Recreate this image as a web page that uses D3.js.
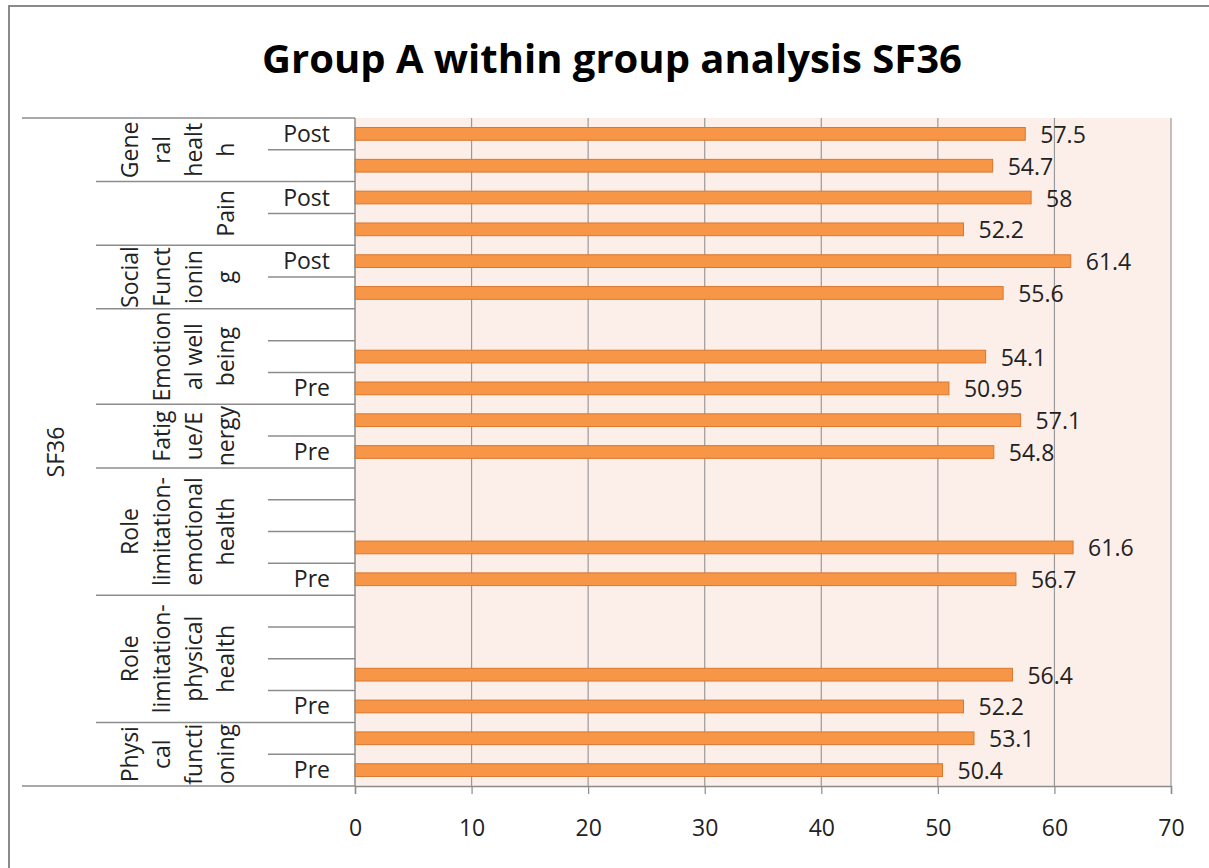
<!DOCTYPE html>
<html>
<head>
<meta charset="utf-8">
<script src="https://cdn.jsdelivr.net/npm/d3@7"></script>
<style>
  html, body { margin: 0; padding: 0; background: #fff; }
  svg { display: block; }
  text { font-family: "Open Sans", "DejaVu Sans", sans-serif; }
</style>
</head>
<body>
<svg id="chart" width="1209" height="868"></svg>
<script>
// SF36 domains, top to bottom, with their label lines as they wrap in the axis
const groupLines = [
  ["Gene", "ral", "healt", "h"],
  ["Pain"],
  ["Social", "Funct", "ionin", "g"],
  ["Emotion", "al well", "being"],
  ["Fatig", "ue/E", "nergy"],
  ["Role", "limitation-", "emotional", "health"],
  ["Role", "limitation-", "physical", "health"],
  ["Physi", "cal", "functi", "oning"]
];
const groupSizes = [2, 2, 2, 3, 2, 4, 4, 2];

// Row labels and values, top to bottom (null = no bar)
const subLabels = ["Post", "", "Post", "", "Post", "", "", "", "Pre", "", "Pre",
                   "", "", "", "Pre", "", "", "", "Pre", "", "Pre"];
const values = [57.5, 54.7, 58, 52.2, 61.4, 55.6, null, 54.1, 50.95, 57.1, 54.8,
                null, null, 61.6, 56.7, null, null, 56.4, 52.2, 53.1, 50.4];

const xTicks = [0, 10, 20, 30, 40, 50, 60, 70];
const title = "Group A within group analysis SF36";
const outerLabel = "SF36";

const svg = d3.select("#chart");
const gray = "#8c8c8c";

// outer chart border
svg.append("rect")
  .attr("x", 9).attr("y", 6).attr("width", 1230).attr("height", 900)
  .attr("fill", "#fff").attr("stroke", "#8a8a8a").attr("stroke-width", 2);

const plot = { left: 355, right: 1171, top: 118, bottom: 786 };
const rows = d3.range(values.length);

const x = d3.scaleLinear().domain([0, 70]).range([plot.left, plot.right]);
const yRow = d3.scaleBand().domain(rows).range([plot.top, plot.bottom]).padding(0);
const yBar = d3.scaleBand().domain(rows).range([plot.top, plot.bottom])
  .paddingInner(0.6).paddingOuter(0.3);

// title
svg.append("text")
  .attr("x", 612).attr("y", 73)
  .attr("text-anchor", "middle")
  .attr("font-size", 40).attr("font-weight", "bold").attr("fill", "#000")
  .attr("textLength", 700).attr("lengthAdjust", "spacingAndGlyphs")
  .text(title);

// plot background
svg.append("rect")
  .attr("x", plot.left).attr("y", plot.top)
  .attr("width", plot.right - plot.left).attr("height", plot.bottom - plot.top)
  .attr("fill", "#fcefea");

// vertical gridlines
svg.append("g").selectAll("line").data(xTicks.slice(1)).join("line")
  .attr("x1", d => x(d)).attr("x2", d => x(d))
  .attr("y1", plot.top).attr("y2", plot.bottom)
  .attr("stroke", "#9a9a9a").attr("stroke-width", 1.2);

// bars
const barData = rows.filter(i => values[i] !== null);
svg.append("g").selectAll("rect").data(barData).join("rect")
  .attr("x", x(0)).attr("y", i => yBar(i))
  .attr("width", i => x(values[i]) - x(0))
  .attr("height", yBar.bandwidth())
  .attr("fill", "#f79646").attr("stroke", "#d9772f").attr("stroke-width", 1);

// value labels
svg.append("g").selectAll("text").data(barData).join("text")
  .attr("x", i => x(values[i]) + 15)
  .attr("y", i => yBar(i) + yBar.bandwidth() / 2 + 9)
  .attr("font-size", 23).attr("fill", "#222")
  .text(i => values[i]);

// x axis
const xAxis = d3.axisBottom(x).tickValues(xTicks).tickSize(8).tickPadding(26)
  .tickFormat(d3.format("d"));
const gx = svg.append("g").attr("transform", `translate(0,${plot.bottom})`).call(xAxis);
gx.select(".domain").attr("stroke", gray).attr("stroke-width", 1.5);
gx.selectAll(".tick line").attr("stroke", gray).attr("stroke-width", 1.2);
gx.selectAll(".tick text").attr("font-size", 23).attr("fill", "#222")
  .attr("font-family", "'Open Sans', sans-serif");

// category axis line
svg.append("line")
  .attr("x1", plot.left).attr("x2", plot.left)
  .attr("y1", plot.top).attr("y2", plot.bottom)
  .attr("stroke", gray).attr("stroke-width", 1.5);

// outer top/bottom lines of the category axis
[plot.top, plot.bottom].forEach(yv => {
  svg.append("line")
    .attr("x1", 22).attr("x2", plot.left).attr("y1", yv).attr("y2", yv)
    .attr("stroke", gray).attr("stroke-width", 1.5);
});

// group boundaries and row boundaries
const groupStart = [];
let acc = 0;
groupSizes.forEach(s => { groupStart.push(acc); acc += s; });

const groupBounds = groupStart.slice(1);
svg.append("g").selectAll("line").data(groupBounds).join("line")
  .attr("x1", 96).attr("x2", plot.left)
  .attr("y1", i => yRow(i)).attr("y2", i => yRow(i))
  .attr("stroke", gray).attr("stroke-width", 1.5);

const rowBounds = rows.slice(1).filter(i => !groupStart.includes(i));
svg.append("g").selectAll("line").data(rowBounds).join("line")
  .attr("x1", 268).attr("x2", plot.left)
  .attr("y1", i => yRow(i)).attr("y2", i => yRow(i))
  .attr("stroke", gray).attr("stroke-width", 1.5);

// row labels (Pre / Post)
svg.append("g").selectAll("text").data(rows.filter(i => subLabels[i])).join("text")
  .attr("x", 330)
  .attr("y", i => yRow(i) + yRow.bandwidth() / 2 + 8)
  .attr("text-anchor", "end")
  .attr("font-size", 23).attr("fill", "#222")
  .text(i => subLabels[i]);

// rotated domain labels
const lineGap = 32;
groupLines.forEach((lines, gi) => {
  const y0 = yRow(groupStart[gi]);
  const y1 = yRow(groupStart[gi] + groupSizes[gi] - 1) + yRow.bandwidth();
  const cy = (y0 + y1) / 2;
  const g = svg.append("g").attr("transform", `translate(234,${cy}) rotate(-90)`);
  g.selectAll("text").data(lines).join("text")
    .attr("x", 0)
    .attr("y", (d, k) => -(lines.length - 1 - k) * lineGap)
    .attr("text-anchor", "middle")
    .attr("font-size", 23).attr("fill", "#222")
    .text(d => d);
});

// outer axis label
svg.append("text")
  .attr("transform", `translate(64,${(plot.top + plot.bottom) / 2}) rotate(-90)`)
  .attr("text-anchor", "middle")
  .attr("font-size", 23).attr("fill", "#222")
  .text(outerLabel);
</script>
</body>
</html>
